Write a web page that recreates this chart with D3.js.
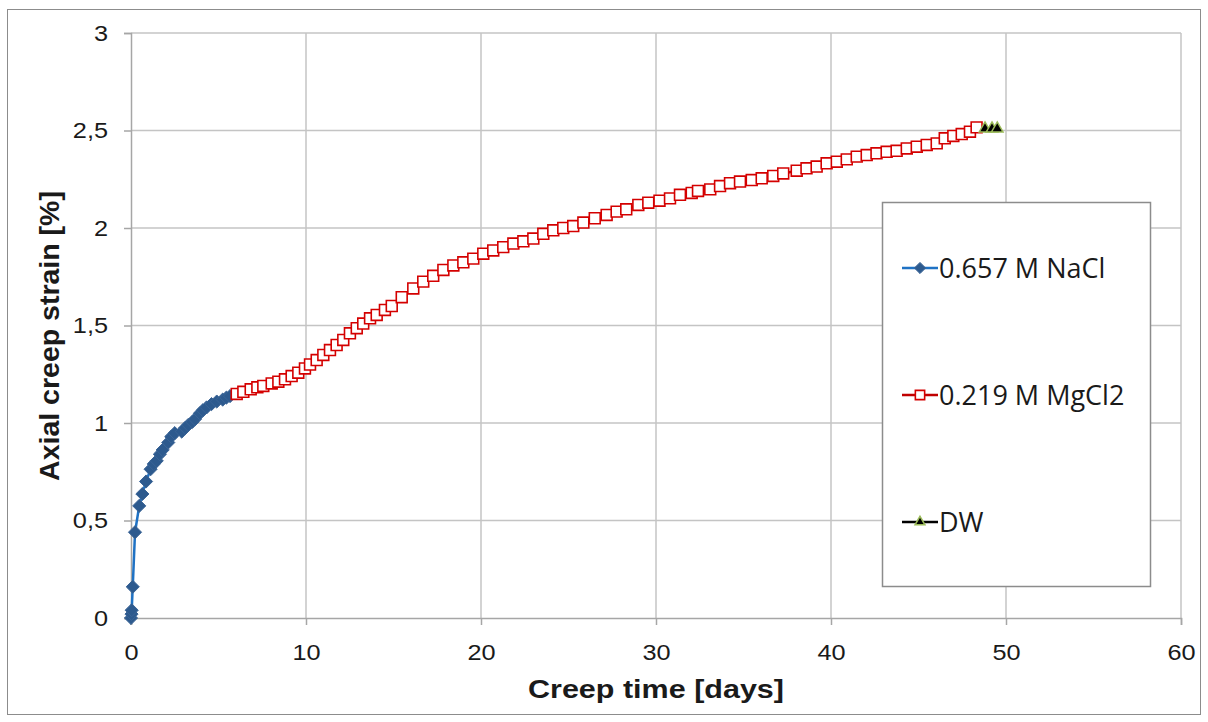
<!DOCTYPE html>
<html>
<head>
<meta charset="utf-8">
<script src="https://cdn.jsdelivr.net/npm/d3@7"></script>
<style>
  body { margin: 0; background: #fff; }
  svg { display: block; }
</style>
</head>
<body>
<div id="viz"></div>
<script>
// series values (days, %)
var naclDays = [0, 0.03, 0.04, 0.1, 0.23, 0.47, 0.65, 0.86, 1.12, 1.3, 1.47, 1.65, 1.81, 2.13, 2.3, 2.5, 2.9, 3.1, 3.27, 3.5, 3.66, 3.94, 4.1, 4.32, 4.6, 4.9, 5.24, 5.45, 5.66];
var naclStrain = [0, 0.02, 0.04, 0.16, 0.44, 0.575, 0.636, 0.7, 0.763, 0.79, 0.806, 0.84, 0.862, 0.9, 0.93, 0.948, 0.956, 0.975, 0.99, 1.005, 1.02, 1.05, 1.065, 1.08, 1.097, 1.11, 1.12, 1.13, 1.138];

var mgDays = [6.04, 6.42, 6.84, 7.22, 7.56, 8.04, 8.42, 8.8, 9.18, 9.56, 9.94, 10.23, 10.61, 10.99, 11.37, 11.75, 12.13, 12.51, 12.9, 13.27, 13.66, 14.04, 14.51, 14.9, 15.47,
  16.13, 16.7, 17.27, 17.85, 18.42, 18.99, 19.56, 20.13, 20.7, 21.27, 21.85, 22.42, 22.99, 23.56, 24.13, 24.7, 25.27, 25.85,
  26.5, 27.18, 27.75, 28.3, 28.99, 29.56, 30.2, 30.8, 31.37, 32.04, 32.4, 33.1, 33.66, 34.23, 34.8, 35.47, 36.04, 36.7, 37.27,
  38.04, 38.6, 39.18, 39.75, 40.33, 40.9, 41.47, 42.04, 42.6, 43.18, 43.75, 44.33, 44.9, 45.47, 46.04, 46.5, 46.99, 47.47, 47.94, 48.32];
var mgStrain = [1.149, 1.16, 1.173, 1.183, 1.19, 1.203, 1.212, 1.224, 1.241, 1.258, 1.28, 1.3, 1.323, 1.349, 1.374, 1.4, 1.426, 1.46, 1.486, 1.51, 1.537, 1.554, 1.58, 1.6, 1.645,
  1.69, 1.725, 1.755, 1.785, 1.808, 1.824, 1.843, 1.868, 1.885, 1.902, 1.92, 1.932, 1.946, 1.97, 1.988, 2.0, 2.01, 2.028,
  2.05, 2.067, 2.084, 2.096, 2.118, 2.13, 2.14, 2.152, 2.17, 2.18, 2.19, 2.198, 2.215, 2.23, 2.238, 2.246, 2.255, 2.267, 2.28,
  2.294, 2.306, 2.315, 2.332, 2.34, 2.352, 2.366, 2.374, 2.383, 2.391, 2.396, 2.408, 2.417, 2.426, 2.434, 2.46, 2.472, 2.482, 2.494, 2.516];

var dwDays = [48.8, 49.2, 49.5];
var dwStrain = [2.51, 2.51, 2.51];

var seriesNames = ["0.657 M NaCl", "0.219 M MgCl2", "DW"];

var xTicks = [0, 10, 20, 30, 40, 50, 60];
var yTicks = [0, 0.5, 1, 1.5, 2, 2.5, 3];
var yTickLabels = ["0", "0,5", "1", "1,5", "2", "2,5", "3"];

var xTitle = "Creep time [days]";
var yTitle = "Axial creep strain [%]";

// dimensions
var W = 1208, H = 722;
var margin = {top: 33, right: 27, bottom: 104, left: 131},
    width = W - margin.left - margin.right,
    height = H - margin.top - margin.bottom;

// tick labels in the picture are a little wide, so stretch them sideways
var stretch = 1.15;

var svg = d3.select("#viz").append("svg")
  .attr("width", W)
  .attr("height", H);

// outer frame
svg.append("rect")
  .attr("x", 7.5).attr("y", 9.5)
  .attr("width", 1193).attr("height", 705)
  .attr("fill", "#fff")
  .attr("stroke", "#8c8c8c")
  .attr("stroke-width", 1);

var g = svg.append("g")
  .attr("transform", "translate(" + margin.left + "," + margin.top + ")");

var x = d3.scaleLinear().domain([0, 60]).range([0, width]);
var y = d3.scaleLinear().domain([0, 3]).range([height, 0]);

// gridlines
g.append("g").selectAll("line")
  .data(xTicks.slice(1))
  .join("line")
  .attr("x1", d => x(d)).attr("x2", d => x(d))
  .attr("y1", 0).attr("y2", height)
  .attr("stroke", "#c4c4c4").attr("stroke-width", 1.5);

g.append("g").selectAll("line")
  .data(yTicks.slice(1))
  .join("line")
  .attr("x1", 0).attr("x2", width)
  .attr("y1", d => y(d)).attr("y2", d => y(d))
  .attr("stroke", "#c4c4c4").attr("stroke-width", 1.5);

// axes
var xAxis = d3.axisBottom(x).tickValues(xTicks).tickSize(7).tickPadding(19);
var yAxis = d3.axisLeft(y).tickValues(yTicks).tickSize(7)
  .tickFormat((d, i) => yTickLabels[i]);

var gx = g.append("g")
  .attr("transform", "translate(0," + height + ")")
  .call(xAxis);
var gy = g.append("g").call(yAxis);

[gx, gy].forEach(a => {
  a.select(".domain").attr("stroke", "#a6a6a6").attr("stroke-width", 1.5);
  a.selectAll(".tick line").attr("stroke", "#a6a6a6").attr("stroke-width", 1.5);
  a.selectAll("text")
    .attr("fill", "#1a1a1a")
    .style("font-family", "'Liberation Sans', Arial, sans-serif")
    .style("font-size", "22px")
    .attr("transform", "scale(" + stretch + ",1)");
});
gy.selectAll("text").attr("x", -23 / stretch);

// axis titles
svg.append("text")
  .attr("x", margin.left + width / 2)
  .attr("y", 698)
  .attr("text-anchor", "middle")
  .attr("textLength", 256)
  .attr("lengthAdjust", "spacingAndGlyphs")
  .style("font-family", "'Liberation Sans', Arial, sans-serif")
  .style("font-weight", "bold")
  .style("font-size", "26px")
  .attr("fill", "#1a1a1a")
  .text(xTitle);

svg.append("text")
  .attr("transform", "translate(59," + 336 + ") rotate(-90)")
  .attr("text-anchor", "middle")
  .style("font-family", "'Liberation Sans', Arial, sans-serif")
  .style("font-weight", "bold")
  .style("font-size", "28.5px")
  .attr("fill", "#1a1a1a")
  .text(yTitle);

// series
var zip = (xs, ys) => xs.map((d, i) => ({x: d, y: ys[i]}));
var nacl = zip(naclDays, naclStrain),
    mg = zip(mgDays, mgStrain),
    dw = zip(dwDays, dwStrain);

var line = d3.line().x(d => x(d.x)).y(d => y(d.y));

var diamond = d3.symbol().type(d3.symbolDiamond2).size(110);
var square = d3.symbol().type(d3.symbolSquare2).size(150);
var triangle = d3.symbol().type(d3.symbolTriangle2).size(95);

// NaCl
g.append("path").datum(nacl)
  .attr("fill", "none").attr("stroke", "#1f72c4").attr("stroke-width", 2.5)
  .attr("d", line);
g.append("g").selectAll("path")
  .data(nacl).join("path")
  .attr("transform", d => "translate(" + x(d.x) + "," + y(d.y) + ")")
  .attr("d", diamond)
  .attr("fill", "#2d5a8e").attr("stroke", "#3a6496").attr("stroke-width", 1);

// MgCl2
g.append("path").datum(mg)
  .attr("fill", "none").attr("stroke", "#c00000").attr("stroke-width", 2.5)
  .attr("d", line);
g.append("g").selectAll("path")
  .data(mg).join("path")
  .attr("transform", d => "translate(" + x(d.x) + "," + y(d.y) + ")")
  .attr("d", square)
  .attr("fill", "#fff").attr("stroke", "#d40000").attr("stroke-width", 1.6);

// DW
g.append("path").datum(dw)
  .attr("fill", "none").attr("stroke", "#000").attr("stroke-width", 2.5)
  .attr("d", line);
g.append("g").selectAll("path")
  .data(dw).join("path")
  .attr("transform", d => "translate(" + x(d.x) + "," + y(d.y) + ")")
  .attr("d", triangle)
  .attr("fill", "#000").attr("stroke", "#9bbb59").attr("stroke-width", 1.5);

// legend
var legend = svg.append("g");
legend.append("rect")
  .attr("x", 882.5).attr("y", 202.5)
  .attr("width", 268).attr("height", 384)
  .attr("fill", "#fff")
  .attr("stroke", "#8c8c8c").attr("stroke-width", 1.5);

var legendStyles = [
  {stroke: "#1f72c4", sym: d3.symbol().type(d3.symbolDiamond2).size(80), fill: "#2d5a8e", mstroke: "#3a6496", mw: 1},
  {stroke: "#c00000", sym: d3.symbol().type(d3.symbolSquare2).size(110), fill: "#fff", mstroke: "#d40000", mw: 1.6},
  {stroke: "#000", sym: d3.symbol().type(d3.symbolTriangle2).size(70), fill: "#000", mstroke: "#9bbb59", mw: 1.5}
];
var legendY = [268, 395, 522];

seriesNames.forEach((name, i) => {
  var s = legendStyles[i], ly = legendY[i];
  var item = legend.append("g").attr("transform", "translate(0," + ly + ")");
  item.append("line")
    .attr("x1", 902).attr("x2", 938).attr("y1", 0).attr("y2", 0)
    .attr("stroke", s.stroke).attr("stroke-width", 2.5);
  item.append("path")
    .attr("transform", "translate(920,0)")
    .attr("d", s.sym)
    .attr("fill", s.fill).attr("stroke", s.mstroke).attr("stroke-width", s.mw);
  item.append("text")
    .attr("x", 939).attr("y", 0).attr("dy", "0.36em")
    .style("font-family", "'Open Sans', 'Noto Sans', sans-serif")
    .style("font-size", "27px")
    .attr("fill", "#1a1a1a")
    .text(name);
});
</script>
</body>
</html>
